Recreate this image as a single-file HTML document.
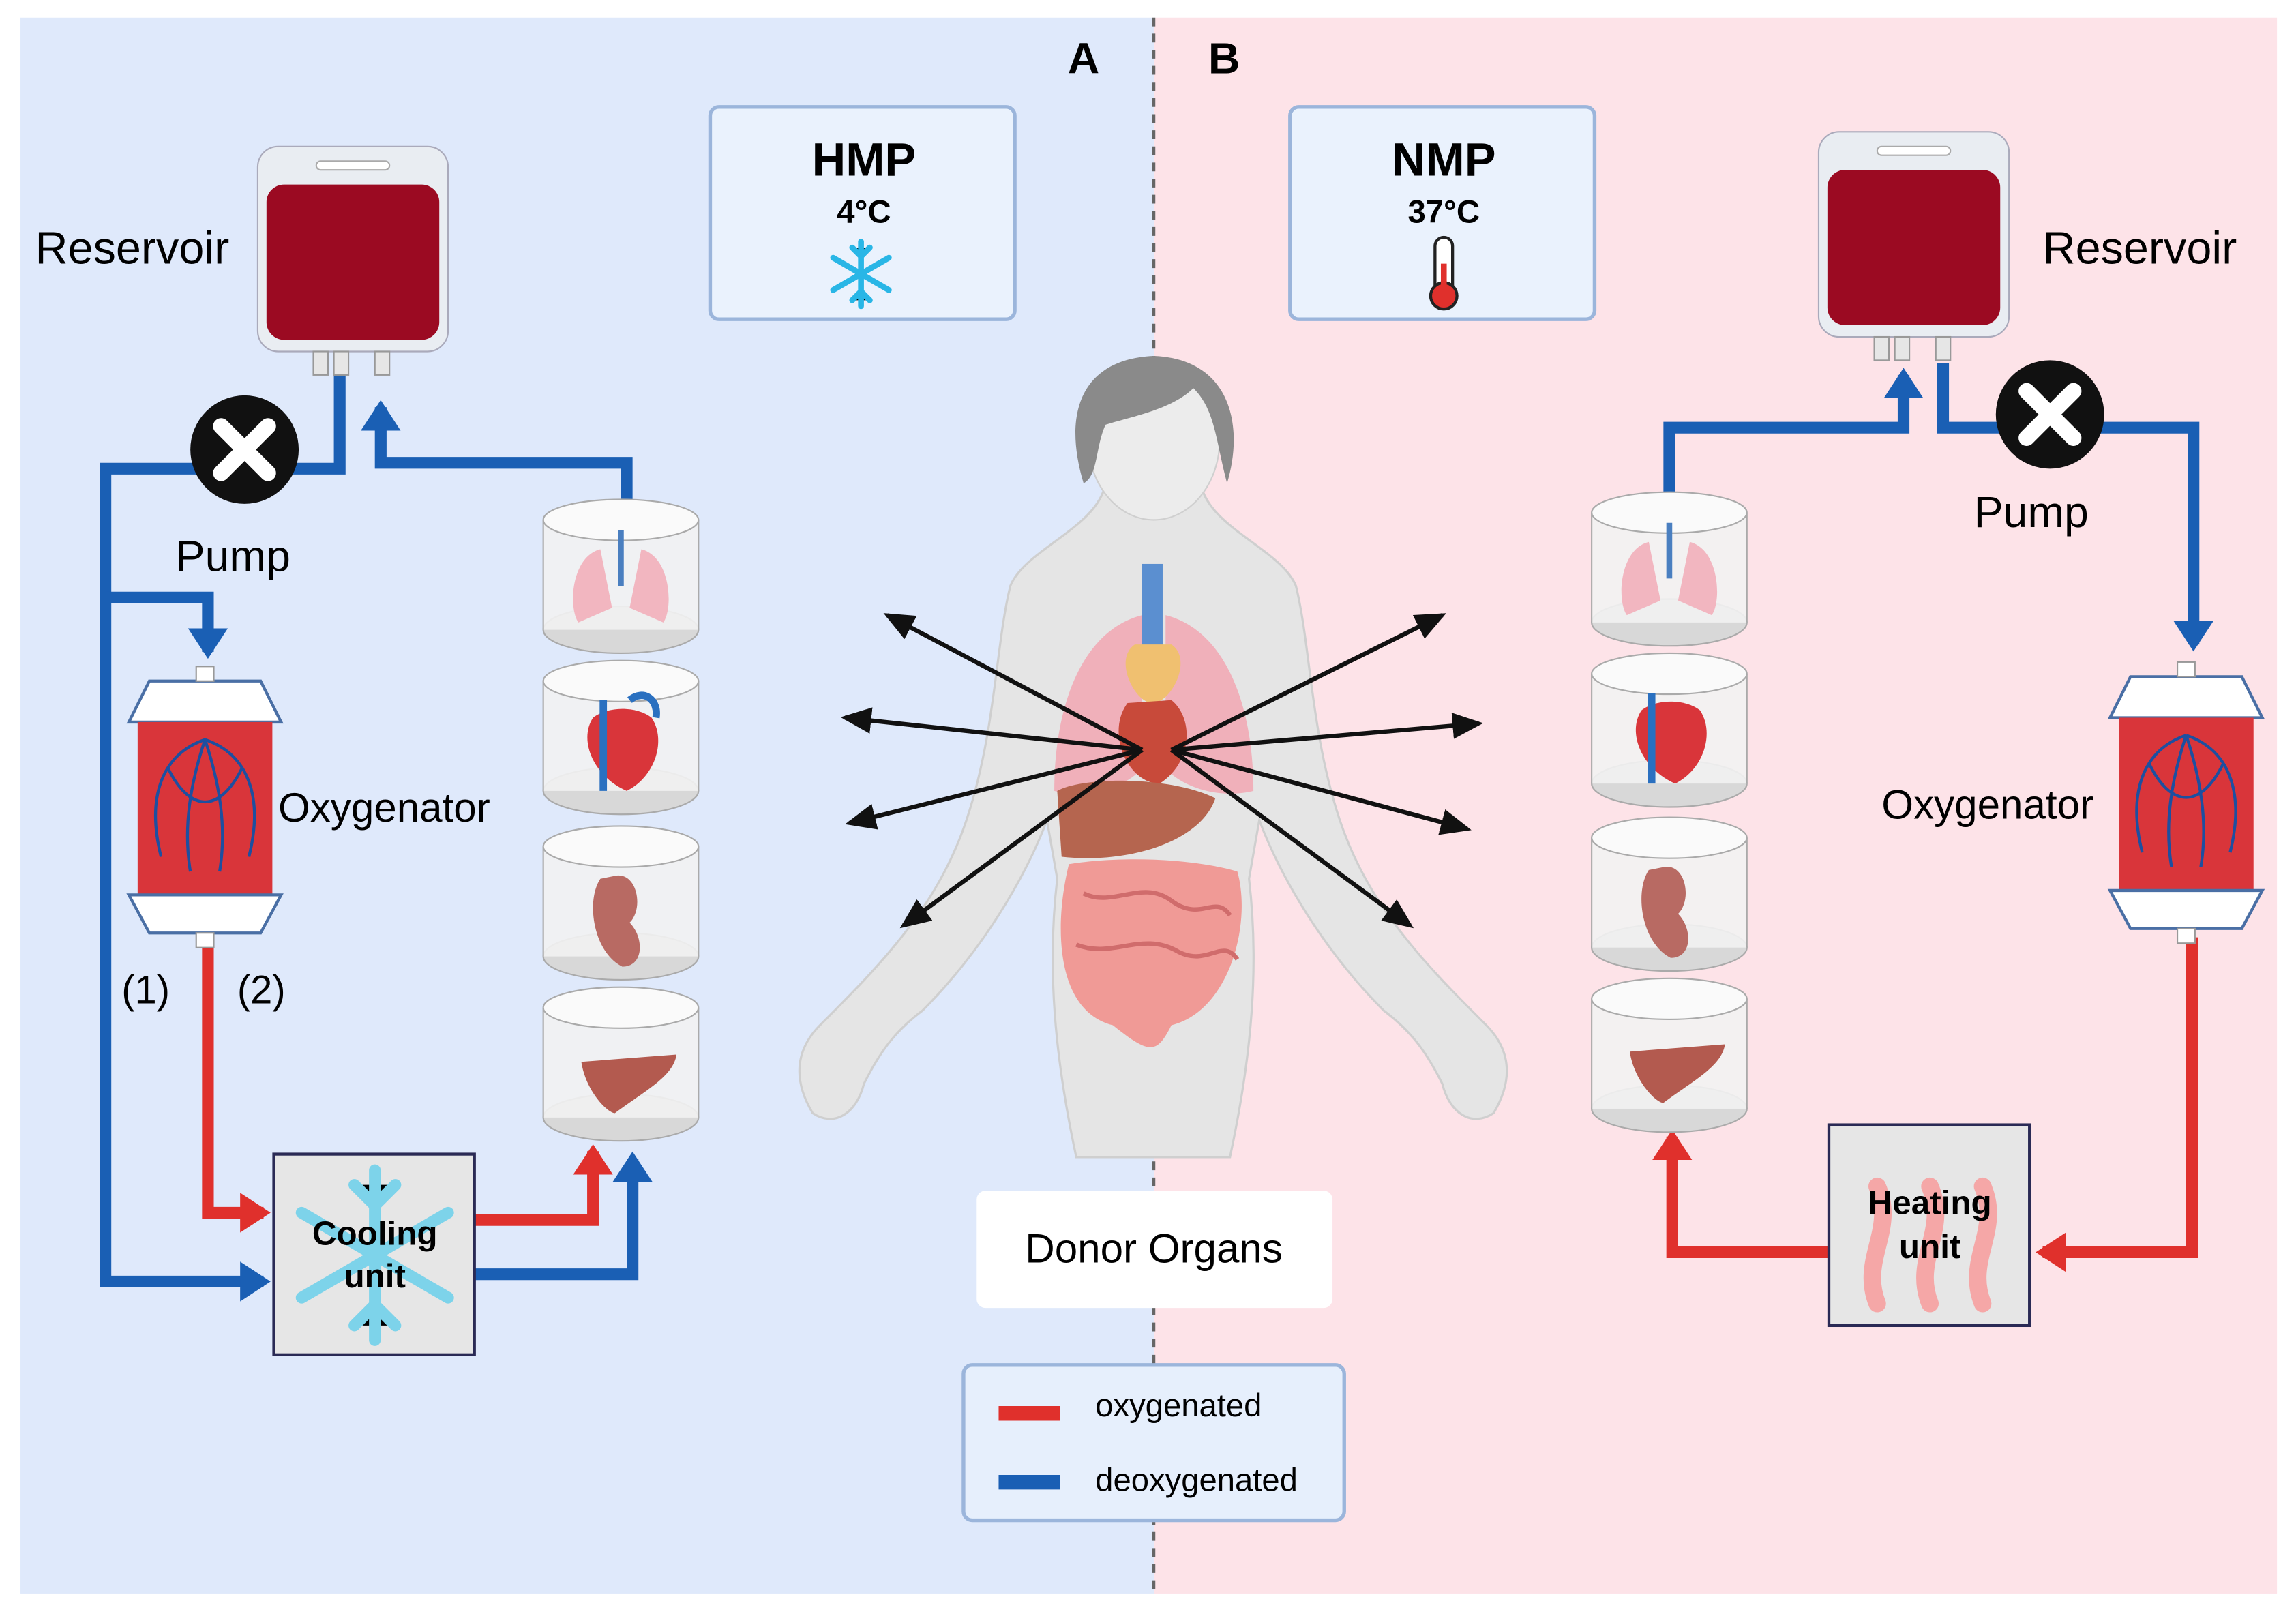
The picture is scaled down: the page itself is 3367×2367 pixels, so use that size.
<!DOCTYPE html>
<html><head><meta charset="utf-8"><style>
html,body{margin:0;padding:0;background:#fff;}
svg{display:block;}
text{font-family:"Liberation Sans",Arial,sans-serif;}
</style></head><body>
<svg width="3367" height="2367" viewBox="0 0 1568 1102" preserveAspectRatio="none" xmlns="http://www.w3.org/2000/svg">
<defs>
<marker id="ab" markerWidth="4" markerHeight="4" refX="2" refY="2" orient="auto" markerUnits="strokeWidth"><path d="M0,0.3 L2.6,2 L0,3.7 z" fill="#1a5fb4"/></marker>
<marker id="ar" markerWidth="4" markerHeight="4" refX="2" refY="2" orient="auto" markerUnits="strokeWidth"><path d="M0,0.3 L2.6,2 L0,3.7 z" fill="#e0302c"/></marker>
<marker id="ak" markerWidth="8" markerHeight="8" refX="6" refY="3" orient="auto" markerUnits="strokeWidth"><path d="M0,0 L7,3 L0,6 z" fill="#111"/></marker>
<g id="jar">
<ellipse cx="0" cy="45" rx="53" ry="16" fill="#d8d8d8" stroke="#aaa"/>
<rect x="-53" y="-30" width="106" height="75" fill="#f2f2f2" fill-opacity="0.9"/>
<line x1="-53" y1="-30" x2="-53" y2="45" stroke="#aaa"/>
<line x1="53" y1="-30" x2="53" y2="45" stroke="#aaa"/>
<ellipse cx="0" cy="-30" rx="53" ry="14" fill="#fafafa" stroke="#aaa"/>
</g>
<g id="bag">
<rect x="0" y="0" width="130" height="140" rx="14" fill="#e9edf2" stroke="#aab"/>
<rect x="6" y="26" width="118" height="106" rx="12" fill="#9b0a22"/>
<rect x="40" y="10" width="50" height="6" rx="3" fill="#fff" stroke="#aaa"/>
<rect x="38" y="140" width="10" height="16" fill="#e6e6e6" stroke="#999"/>
<rect x="52" y="140" width="10" height="16" fill="#e6e6e6" stroke="#999"/>
<rect x="80" y="140" width="10" height="16" fill="#e6e6e6" stroke="#999"/>
</g>
<g id="oxy">
<path d="M-38,0 L38,0 L52,28 L-52,28 Z" fill="#fff" stroke="#4a6fa5" stroke-width="2"/>
<rect x="-46" y="28" width="92" height="118" fill="#d9353a"/>
<path d="M-52,146 L52,146 L38,172 L-38,172 Z" fill="#fff" stroke="#4a6fa5" stroke-width="2"/>
<path d="M0,40 C-30,50 -40,80 -30,120 M0,40 C30,50 40,80 30,120 M0,40 C-10,70 -15,100 -10,130 M0,40 C10,70 15,100 10,130 M-25,60 C-10,90 10,90 25,60" fill="none" stroke="#1d4fa0" stroke-width="2"/>
<rect x="-6" y="-10" width="12" height="10" fill="#fff" stroke="#999"/>
<rect x="-6" y="172" width="12" height="10" fill="#fff" stroke="#999"/>
</g>
<g id="pump">
<circle r="37" fill="#111"/>
<path d="M-16,-16 L16,16 M16,-16 L-16,16" stroke="#fff" stroke-width="11" stroke-linecap="round"/>
</g>
</defs>
<rect width="1568" height="1102" fill="#fff"/>
<rect x="14" y="12" width="774" height="1076" fill="#dfe9fb"/>
<rect x="788" y="12" width="767" height="1076" fill="#fde3e8"/>
<line x1="788" y1="12" x2="788" y2="1088" stroke="#666" stroke-width="2" stroke-dasharray="6,5"/>
<text x="740" y="50" font-size="30" font-weight="bold" text-anchor="middle">A</text>
<text x="836" y="50" font-size="30" font-weight="bold" text-anchor="middle">B</text>

<rect x="485" y="73" width="208" height="145" rx="6" fill="#eaf2fd" stroke="#9bb5db" stroke-width="2.5"/>
<text x="590" y="120" font-size="32" font-weight="bold" text-anchor="middle">HMP</text>
<text x="590" y="152" font-size="22" font-weight="bold" text-anchor="middle">4°C</text>
<g stroke="#29b6e6" stroke-width="4" stroke-linecap="round" transform="translate(588,187)">
<path d="M0,-22 L0,22 M-19,-11 L19,11 M-19,11 L19,-11 M-6,-18 L0,-12 L6,-18 M-6,18 L0,12 L6,18"/>
</g>
<rect x="881" y="73" width="208" height="145" rx="6" fill="#eaf2fd" stroke="#9bb5db" stroke-width="2.5"/>
<text x="986" y="120" font-size="32" font-weight="bold" text-anchor="middle">NMP</text>
<text x="986" y="152" font-size="22" font-weight="bold" text-anchor="middle">37°C</text>
<rect x="980" y="162" width="12" height="40" rx="6" fill="#fff" stroke="#222" stroke-width="2"/>
<circle cx="986" cy="202" r="9" fill="#e0302c" stroke="#222" stroke-width="2"/>
<line x1="986" y1="180" x2="986" y2="200" stroke="#e0302c" stroke-width="4"/>

<g fill="none" stroke-width="8" stroke-linejoin="miter">
<path d="M232,256 L232,320 L72,320 L72,875 L180,875" stroke="#1a5fb4" marker-end="url(#ab)"/>
<path d="M72,408 L142,408 L142,445" stroke="#1a5fb4" marker-end="url(#ab)"/>
<path d="M428,350 L428,316 L260,316 L260,278" stroke="#1a5fb4" marker-end="url(#ab)"/>
<path d="M142,640 L142,828 L180,828" stroke="#e0302c" marker-end="url(#ar)"/>
<path d="M324,833 L405,833 L405,786" stroke="#e0302c" marker-end="url(#ar)"/>
<path d="M324,870 L432,870 L432,791" stroke="#1a5fb4" marker-end="url(#ab)"/>
</g>
<use href="#bag" x="176" y="100"/>
<text x="24" y="180" font-size="31">Reservoir</text>
<use href="#pump" x="167" y="307"/>
<text x="120" y="390" font-size="30">Pump</text>
<use href="#oxy" x="140" y="465"/>
<text x="190" y="561" font-size="28">Oxygenator</text>
<text x="83" y="685" font-size="27">(1)</text>
<text x="162" y="685" font-size="27">(2)</text>
<rect x="187" y="788" width="137" height="137" fill="#e6e6e6" stroke="#2a2a55" stroke-width="2"/>
<g stroke="#7dd3ea" stroke-width="8" stroke-linecap="round" transform="translate(256,857)">
<path d="M0,-58 L0,58 M-50,-29 L50,29 M-50,29 L50,-29 M-14,-48 L0,-34 L14,-48 M-14,48 L0,34 L14,48"/>
</g>
<text x="256" y="850" font-size="23" font-weight="bold" text-anchor="middle">Cooling</text>
<text x="256" y="879" font-size="23" font-weight="bold" text-anchor="middle">unit</text>

<use href="#jar" x="424" y="385"/>
<path d="M410,375 C390,380 388,415 395,425 L418,415 Z M438,375 C458,380 460,415 453,425 L430,415 Z" fill="#f2b6c0"/>
<line x1="424" y1="362" x2="424" y2="400" stroke="#4a7fc0" stroke-width="4"/>
<use href="#jar" x="424" y="495"/>
<path d="M405,490 C395,505 405,530 428,540 C448,530 455,505 445,490 C435,482 415,482 405,490Z" fill="#d9353a"/>
<path d="M412,478 L412,540 M430,478 C440,470 450,478 448,490" stroke="#2a70c0" stroke-width="5" fill="none"/>
<use href="#jar" x="424" y="608"/>
<path d="M410,600 C400,615 405,650 425,660 C440,660 440,640 430,630 C440,620 435,595 420,598Z" fill="#b86a63"/>
<use href="#jar" x="424" y="718"/>
<path d="M397,725 C400,745 415,760 420,760 C440,745 460,735 462,720 Z" fill="#b35a4f"/>

<g fill="none" stroke-width="8">
<path d="M1140,345 L1140,292 L1300,292 L1300,256" stroke="#1a5fb4" marker-end="url(#ab)"/>
<path d="M1327,248 L1327,292 L1498,292 L1498,440" stroke="#1a5fb4" marker-end="url(#ab)"/>
<path d="M1497,640 L1497,855 L1395,855" stroke="#e0302c" marker-end="url(#ar)"/>
<path d="M1249,855 L1142,855 L1142,776" stroke="#e0302c" marker-end="url(#ar)"/>
</g>
<use href="#bag" x="1242" y="90"/>
<text x="1395" y="180" font-size="31">Reservoir</text>
<use href="#pump" x="1400" y="283"/>
<text x="1348" y="360" font-size="30">Pump</text>
<use href="#oxy" x="1493" y="462"/>
<text x="1285" y="559" font-size="28">Oxygenator</text>
<rect x="1249" y="768" width="137" height="137" fill="#e6e6e6" stroke="#2a2a55" stroke-width="2"/>
<g fill="none" stroke="#f5a7a7" stroke-width="12" stroke-linecap="round">
<path d="M1282,890 C1270,860 1295,840 1282,810"/><path d="M1318,890 C1306,860 1331,840 1318,810"/><path d="M1354,890 C1342,860 1367,840 1354,810"/>
</g>
<text x="1318" y="829" font-size="23" font-weight="bold" text-anchor="middle">Heating</text>
<text x="1318" y="859" font-size="23" font-weight="bold" text-anchor="middle">unit</text>
<use href="#jar" x="1140" y="380"/>
<path d="M1126,370 C1106,375 1104,410 1111,420 L1134,410 Z M1154,370 C1174,375 1176,410 1169,420 L1146,410 Z" fill="#f2b6c0"/>
<line x1="1140" y1="357" x2="1140" y2="395" stroke="#4a7fc0" stroke-width="4"/>
<use href="#jar" x="1140" y="490"/>
<path d="M1121,485 C1111,500 1121,525 1144,535 C1164,525 1171,500 1161,485 C1151,477 1131,477 1121,485Z" fill="#d9353a"/>
<path d="M1128,473 L1128,535" stroke="#2a70c0" stroke-width="5"/>
<use href="#jar" x="1140" y="602"/>
<path d="M1126,594 C1116,609 1121,644 1141,654 C1156,654 1156,634 1146,624 C1156,614 1151,589 1136,592Z" fill="#b86a63"/>
<use href="#jar" x="1140" y="712"/>
<path d="M1113,718 C1116,738 1131,753 1136,753 C1156,738 1176,728 1178,713 Z" fill="#b35a4f"/>

<g fill="#e5e5e5" stroke="#cfcfcf" stroke-width="1.5">
<path d="M755,330 C750,360 700,375 690,400 C680,440 680,500 660,560 C640,620 600,660 560,700 C545,715 540,735 555,760 C570,770 585,760 590,740 C600,720 610,705 630,690 C670,650 700,600 715,560 L722,600 C715,660 720,720 735,790 L840,790 C855,720 860,660 853,600 L860,560 C875,600 905,650 945,690 C965,705 975,720 985,740 C990,760 1005,770 1020,760 C1035,735 1030,715 1015,700 C975,660 935,620 915,560 C895,500 895,440 885,400 C875,375 825,360 820,330 Z"/>
</g>
<ellipse cx="788" cy="300" rx="45" ry="55" fill="#ececec" stroke="#cfcfcf"/>
<path d="M740,330 C725,280 740,245 788,243 C840,245 850,290 838,330 C830,300 830,280 815,265 C800,280 770,285 755,290 C748,305 750,325 740,330Z" fill="#8a8a8a"/>
<path d="M780,420 C740,430 720,480 720,540 C740,545 765,540 780,525 Z M796,420 C836,430 856,480 856,540 C836,545 811,540 796,525 Z" fill="#f2a7b3" opacity="0.85"/>
<rect x="780" y="385" width="14" height="60" fill="#5b8fd0"/>
<path d="M775,440 C760,450 775,480 787,480 C800,480 815,450 800,440Z" fill="#f0c070"/>
<path d="M770,480 C755,500 770,535 792,535 C815,520 815,490 800,478Z" fill="#c84a3a"/>
<path d="M722,540 C740,530 800,530 830,545 C820,575 770,590 725,585Z" fill="#b5654f"/>
<path d="M730,590 C720,630 720,690 760,700 C785,720 790,720 800,700 C840,690 855,630 845,595 C810,585 760,585 730,590Z" fill="#f09a96"/>
<path d="M740,610 C760,620 780,600 800,615 C820,630 830,610 840,625 M735,645 C760,655 780,635 805,650 C825,660 835,640 845,655" stroke="#d06c6c" stroke-width="3" fill="none"/>
<g stroke="#111" stroke-width="3" marker-end="url(#ak)">
<line x1="780" y1="512" x2="606" y2="420"/>
<line x1="780" y1="512" x2="577" y2="490"/>
<line x1="780" y1="512" x2="580" y2="562"/>
<line x1="780" y1="512" x2="617" y2="632"/>
<line x1="800" y1="512" x2="985" y2="420"/>
<line x1="800" y1="512" x2="1010" y2="494"/>
<line x1="800" y1="512" x2="1002" y2="566"/>
<line x1="800" y1="512" x2="963" y2="632"/>
</g>

<rect x="667" y="813" width="243" height="80" rx="6" fill="#fff"/>
<text x="788" y="862" font-size="28" text-anchor="middle">Donor Organs</text>
<rect x="658" y="932" width="260" height="106" rx="6" fill="#e6effc" stroke="#9bb5db" stroke-width="2.5"/>
<line x1="682" y1="965" x2="724" y2="965" stroke="#e0302c" stroke-width="10"/>
<line x1="682" y1="1012" x2="724" y2="1012" stroke="#1a5fb4" stroke-width="10"/>
<text x="748" y="967" font-size="22">oxygenated</text>
<text x="748" y="1018" font-size="22">deoxygenated</text>
</svg>
</body></html>
